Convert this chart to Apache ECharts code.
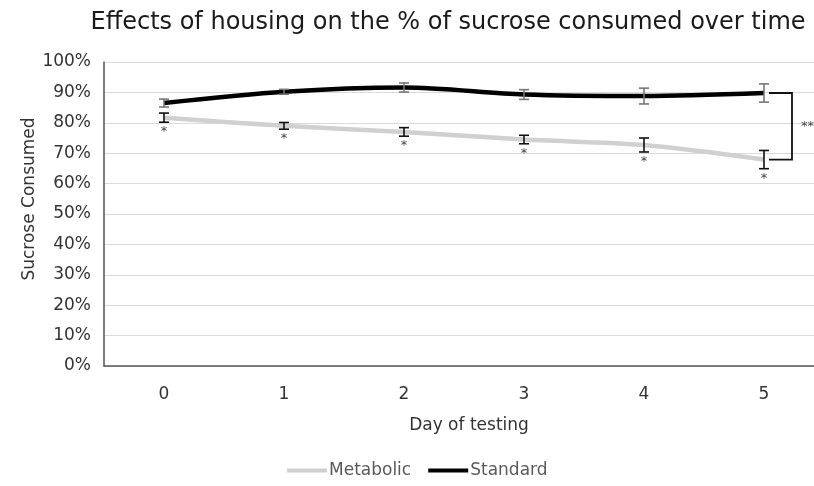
<!DOCTYPE html>
<html>
<head>
<meta charset="utf-8">
<script src="https://cdn.jsdelivr.net/npm/echarts@6/dist/echarts.min.js"></script>
<style>
  html, body { margin: 0; padding: 0; background: #fff; }
  #chart { width: 814px; height: 486px; }
</style>
</head>
<body>
<div id="chart"></div>
<script>
// Days of testing on the x axis
const days = ['0', '1', '2', '3', '4', '5'];

// % of sucrose consumed (mean) and error (+/-) per housing condition
const metabolic = [81.7, 79.0, 77.0, 74.5, 72.7, 67.9];
const metabolicErr = [1.5, 1.1, 1.4, 1.4, 2.3, 3.0];
const standard = [86.5, 90.2, 91.6, 89.3, 88.8, 89.8];
const standardErr = [1.3, 0.8, 1.5, 1.6, 2.6, 3.0];

// Y axis ticks
const yTicks = [0, 10, 20, 30, 40, 50, 60, 70, 80, 90, 100];

// Comparison bracket between the two groups on the final day
const bracketDay = 5;
const bracketLabel = '**';
const dayMarker = '*';

const font = '"DejaVu Sans", sans-serif';

function errorBarData(mean, err) {
  return mean.map((m, i) => [i, m - err[i], m + err[i]]);
}

function errorBarSeries(name, mean, err, color, withMarker) {
  return {
    type: 'custom',
    name: name + ' error',
    silent: true,
    z: 5,
    data: errorBarData(mean, err),
    renderItem: function (params, api) {
      const lo = api.coord([api.value(0), api.value(1)]);
      const hi = api.coord([api.value(0), api.value(2)]);
      const hw = 5;
      const style = { stroke: color, lineWidth: 1.6 };
      const children = [
        { type: 'line', shape: { x1: hi[0], y1: hi[1], x2: lo[0], y2: lo[1] }, style: style },
        { type: 'line', shape: { x1: hi[0] - hw, y1: hi[1], x2: hi[0] + hw, y2: hi[1] }, style: style },
        { type: 'line', shape: { x1: lo[0] - hw, y1: lo[1], x2: lo[0] + hw, y2: lo[1] }, style: style }
      ];
      if (withMarker) {
        children.push({
          type: 'text',
          style: {
            text: dayMarker, x: lo[0], y: lo[1] + 3,
            fill: '#444', font: '13px ' + font,
            textAlign: 'center', textVerticalAlign: 'top'
          }
        });
      }
      return { type: 'group', children: children };
    }
  };
}

const chart = echarts.init(document.getElementById('chart'));

chart.setOption({
  animation: false,
  backgroundColor: '#fff',
  title: {
    text: 'Effects of housing on the % of sucrose consumed over time',
    left: 443,
    top: 6,
    textAlign: 'center',
    textStyle: { fontFamily: font, fontSize: 24, fontWeight: 'normal', color: '#1a1a1a' }
  },
  legend: {
    bottom: 2,
    left: 282,
    itemGap: 17,
    itemWidth: 40,
    itemHeight: 4,
    icon: 'rect',
    textStyle: { fontFamily: font, fontSize: 17, color: '#595959', padding: [0, 0, 0, -3] },
    data: ['Metabolic', 'Standard']
  },
  grid: { left: 104, top: 62, width: 720, height: 304, containLabel: false, outerBoundsMode: 'none' },
  xAxis: {
    type: 'category',
    data: days,
    boundaryGap: true,
    name: 'Day of testing',
    nameLocation: 'middle',
    nameGap: 51,
    nameTextStyle: { fontFamily: font, fontSize: 17, color: '#333', padding: [0, 0, 0, 10] },
    axisLine: { lineStyle: { color: '#555', width: 1.5 } },
    axisTick: { show: false },
    axisLabel: { fontFamily: font, fontSize: 17, color: '#333', margin: 20 },
    splitLine: { show: false }
  },
  yAxis: {
    type: 'value',
    min: yTicks[0],
    max: yTicks[yTicks.length - 1],
    interval: 10,
    name: 'Sucrose Consumed',
    nameLocation: 'middle',
    nameGap: 66,
    nameMoveOverlap: false,
    nameTextStyle: { fontFamily: font, fontSize: 17, color: '#333', padding: [0, 0, 0, 30] },
    axisLine: { show: true, lineStyle: { color: '#555', width: 1.5 } },
    axisTick: { show: false },
    axisLabel: { fontFamily: font, fontSize: 17, color: '#333', margin: 13, formatter: '{value}%' },
    splitLine: { lineStyle: { color: '#dadada', width: 1.2 } }
  },
  series: [
    {
      name: 'Metabolic',
      type: 'line',
      data: metabolic,
      smooth: 0.3,
      symbol: 'none',
      z: 3,
      color: '#d0d0d0',
      lineStyle: { color: '#d0d0d0', width: 4.5 }
    },
    {
      name: 'Standard',
      type: 'line',
      data: standard,
      smooth: 0.3,
      symbol: 'none',
      z: 4,
      color: '#000',
      lineStyle: { color: '#000', width: 4.5 }
    },
    errorBarSeries('Standard', standard, standardErr, '#777', false),
    errorBarSeries('Metabolic', metabolic, metabolicErr, '#111', true),
    {
      type: 'custom',
      name: 'bracket',
      silent: true,
      z: 6,
      data: [[bracketDay, standard[bracketDay], metabolic[bracketDay]]],
      renderItem: function (params, api) {
        const top = api.coord([api.value(0), api.value(1)]);
        const bot = api.coord([api.value(0), api.value(2)]);
        const x0 = top[0] + 5;
        const x1 = top[0] + 28;
        const style = { stroke: '#111', lineWidth: 1.8, fill: null };
        return {
          type: 'group',
          children: [
            { type: 'polyline', shape: { points: [[x0, top[1]], [x1, top[1]], [x1, bot[1]], [x0, bot[1]]] }, style: style },
            {
              type: 'text',
              style: {
                text: bracketLabel, x: x1 + 9, y: (top[1] + bot[1]) / 2,
                fill: '#444', font: '13px ' + font,
                textAlign: 'left', textVerticalAlign: 'middle'
              }
            }
          ]
        };
      }
    }
  ]
});
</script>
</body>
</html>
